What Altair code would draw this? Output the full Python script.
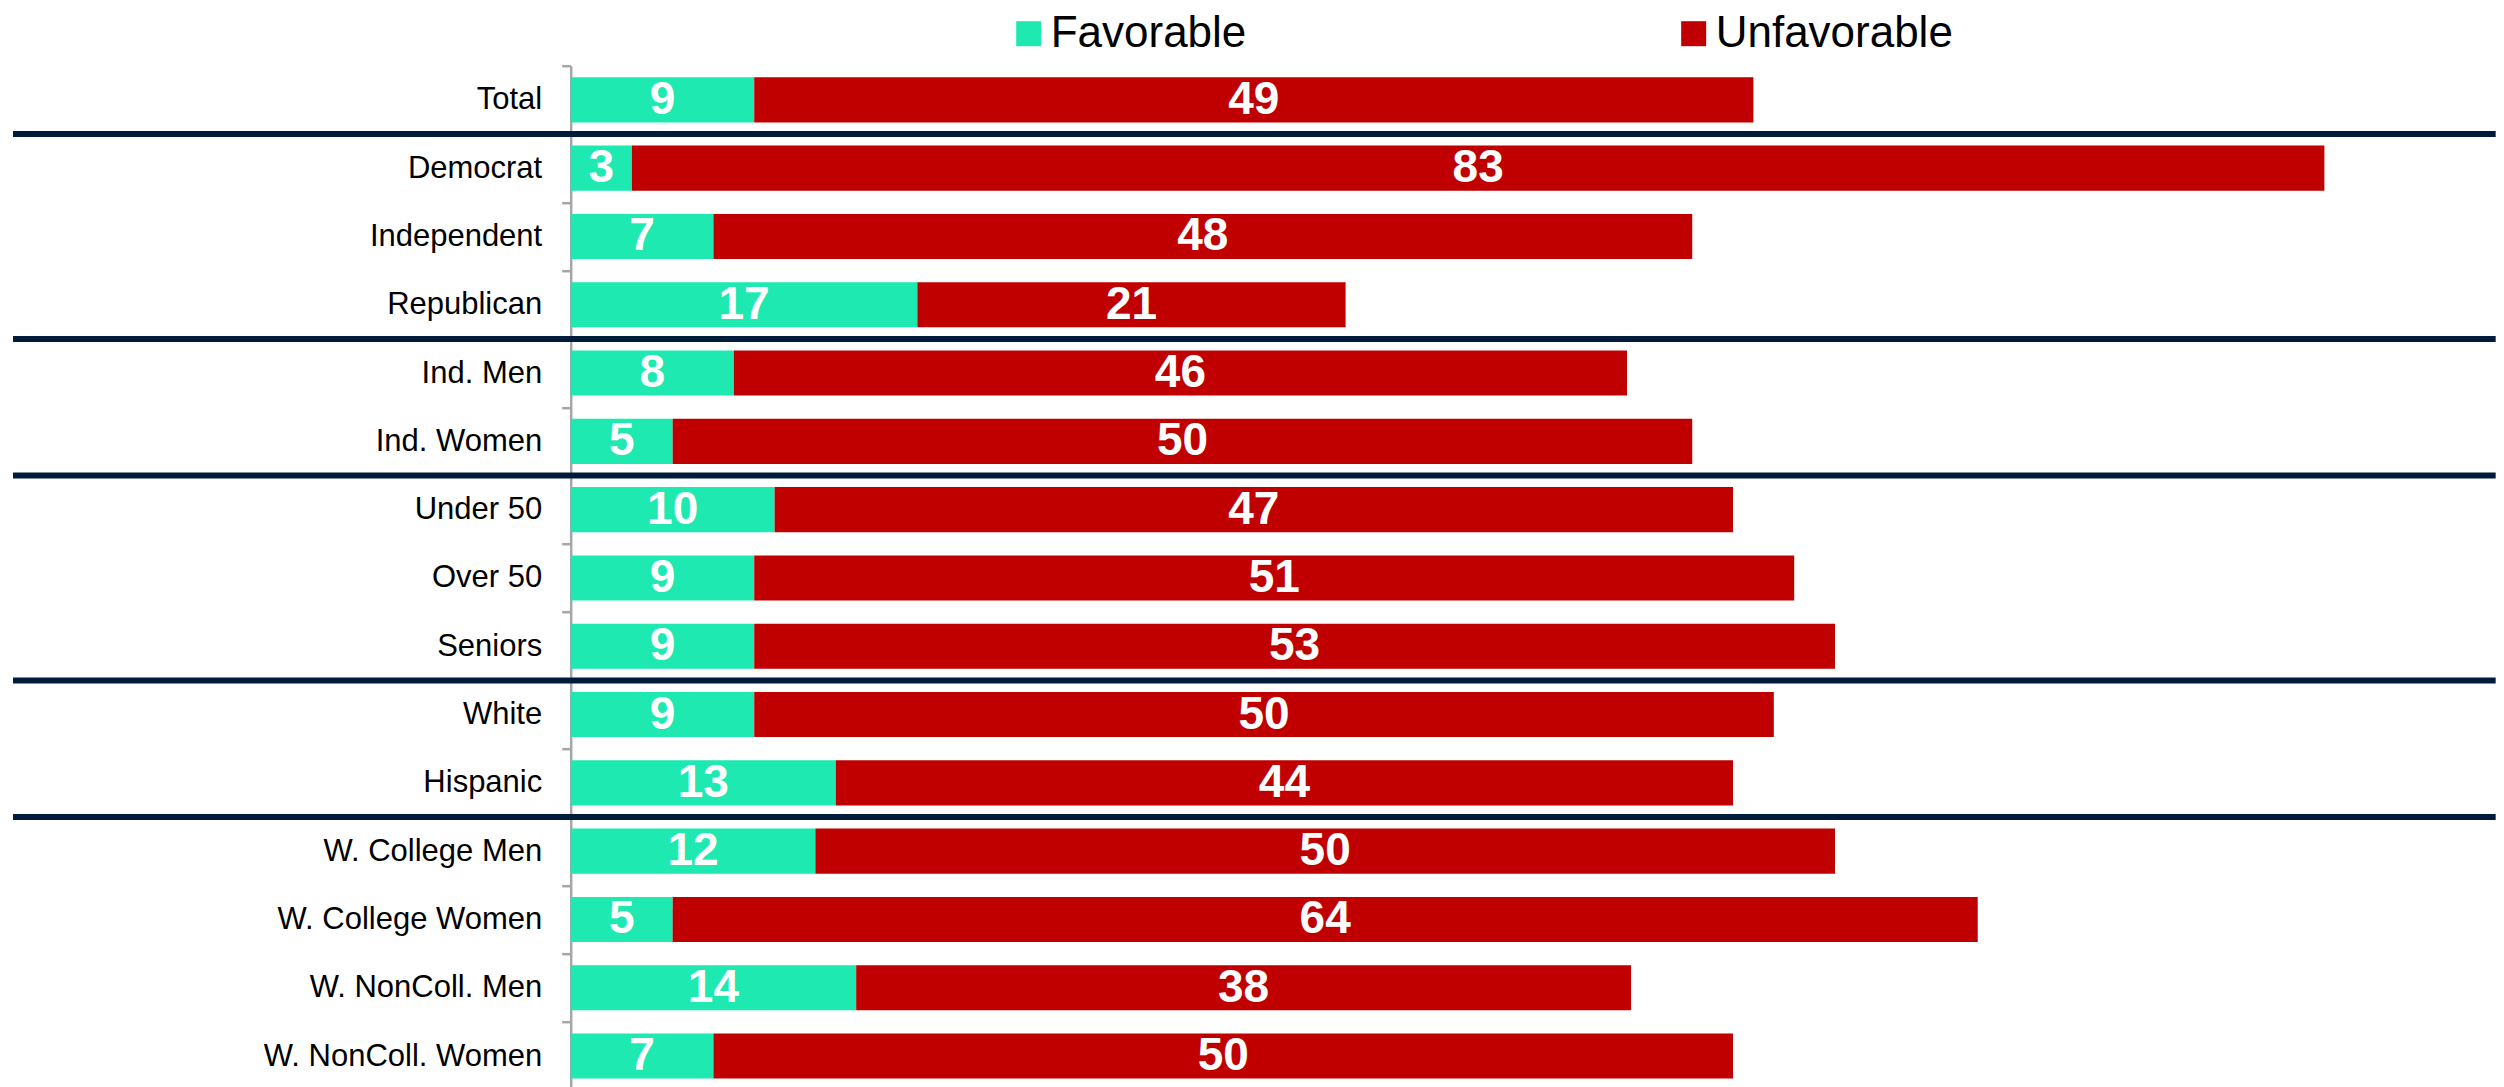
import altair as alt
import pandas as pd

categories = ["Total", "Democrat", "Independent", "Republican", "Ind. Men", "Ind. Women",
              "Under 50", "Over 50", "Seniors", "White", "Hispanic", "W. College Men",
              "W. College Women", "W. NonColl. Men", "W. NonColl. Women"]
favorable = [9, 3, 7, 17, 8, 5, 10, 9, 9, 9, 13, 12, 5, 14, 7]
unfavorable = [49, 83, 48, 21, 43.8, 50, 47, 51, 53, 50, 44, 50, 64, 38, 50]
unfavorable_labels = [49, 83, 48, 21, 46, 50, 47, 51, 53, 50, 44, 50, 64, 38, 50]
series = ["Favorable", "Unfavorable"]
colors = ["#1DE9B0", "#C00000"]
group_starts = ["Democrat", "Ind. Men", "Under 50", "White", "W. College Men"]

rows = []
for i, c in enumerate(categories):
    rows.append({"cat": c, "series": series[0], "value": favorable[i],
                 "label": str(favorable[i]), "ord": 0})
    rows.append({"cat": c, "series": series[1], "value": unfavorable[i],
                 "label": str(unfavorable_labels[i]), "ord": 1})
df = pd.DataFrame(rows)
sep = pd.DataFrame({"cat": group_starts})

FONT = "Liberation Sans"
W = 1925
H = 1024.5

yscale = alt.Scale(domain=categories, paddingInner=0, paddingOuter=0)
y = alt.Y("cat:N", sort=categories, scale=yscale,
          axis=alt.Axis(title=None, tickBand="extent", labelFont=FONT, labelFontSize=31,
                        labelColor="#000000", labelPadding=20, tickSize=9,
                        tickColor="#A6A6A6", tickWidth=2.5, domainColor="#A6A6A6",
                        domainWidth=2.5, labelLimit=0))
xscale = alt.Scale(domain=[0, 94.4], nice=False, zero=True)

base = alt.Chart(df).transform_stack(
    stack="value", groupby=["cat"], as_=["x0", "x1"], sort=[alt.SortField("ord")]
).transform_calculate(mid="(datum.x0 + datum.x1) / 2")

bars = base.mark_bar(height=alt.RelativeBandSize(0.66)).encode(
    x=alt.X("x0:Q", scale=xscale, axis=None),
    x2="x1:Q",
    y=y,
    color=alt.Color("series:N", scale=alt.Scale(domain=series, range=colors),
                    legend=alt.Legend(title=None, orient="none", legendX=436, legendY=-54,
                                      direction="horizontal", symbolType="square",
                                      symbolSize=625, symbolStrokeWidth=0,
                                      labelFont=FONT, labelFontSize=44, labelColor="#000000",
                                      labelOffset=0, columnPadding=383, gridAlign="all",
                                      labelLimit=0, padding=0)),
)

texts = base.mark_text(font=FONT, fontWeight="bold", fontSize=46, color="white",
                       baseline="middle", align="center").encode(
    x=alt.X("mid:Q", scale=xscale, axis=None),
    y=y,
    text="label:N",
)

rules = alt.Chart(sep).mark_rule(color="#001C3C", strokeWidth=6).encode(
    y=alt.Y("cat:N", sort=categories, bandPosition=0),
    x=alt.value(-557.7),
    x2=alt.value(W),
)

chart = alt.layer(bars, texts, rules).properties(
    width=W, height=H,
    autosize=alt.AutoSizeParams(type="none"),
    padding={"left": 562.7, "top": 57.7, "right": 0, "bottom": 0},
    background="white",
).configure_view(stroke=None)

chart.save("out.html", embed_options={"renderer": "svg", "actions": False})
